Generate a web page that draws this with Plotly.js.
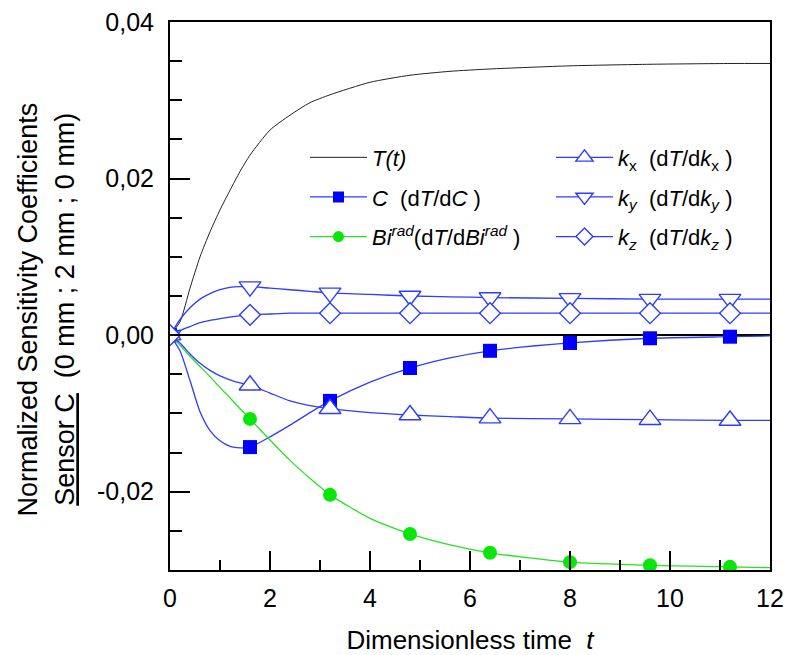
<!DOCTYPE html>
<html>
<head>
<meta charset="utf-8">
<script src="https://cdn.plot.ly/plotly-3.0.1.min.js"></script>
<style>html,body{margin:0;padding:0;background:#fff;}#chart{width:788px;height:655px;}</style>
</head>
<body>
<div id="chart"></div>
<script>
// Dimensionless time for the curves
var tLine = [0, 0.2, 0.4, 0.6, 0.8, 1.0, 1.2, 1.4, 1.6, 2.0, 2.4, 2.8, 3.2, 4.0, 4.8, 5.6, 6.4, 8.0, 9.6, 11.2, 12];
// Times where symbols are drawn
var tMarks = [0, 1.6, 3.2, 4.8, 6.4, 8.0, 9.6, 11.2];

// Series
var T_t  = [0, 0.0017, 0.0060, 0.0100, 0.0132, 0.0160, 0.0185, 0.0209, 0.0230, 0.0262, 0.0281, 0.0297, 0.0307, 0.0323, 0.0332, 0.0337, 0.0340, 0.0344, 0.0346, 0.0347, 0.0347];
var C_s  = [0, -0.0020, -0.0058, -0.0098, -0.0122, -0.0135, -0.0142, -0.0144, -0.0143, -0.0130, -0.0115, -0.0099, -0.0084, -0.0060, -0.0042, -0.0029, -0.0020, -0.0010, -0.0004, -0.0002, -0.0001];
var Bi_s = [0, -0.0013, -0.0027, -0.0040, -0.0053, -0.0067, -0.0080, -0.0094, -0.0107, -0.0134, -0.0160, -0.0183, -0.0204, -0.0234, -0.0254, -0.0268, -0.0278, -0.0290, -0.0294, -0.0296, -0.0297];
var kx_s = [0, -0.0010, -0.0024, -0.0036, -0.0045, -0.0052, -0.0057, -0.0061, -0.0064, -0.0074, -0.0084, -0.0090, -0.0094, -0.0099, -0.0102, -0.0104, -0.0106, -0.0107, -0.0108, -0.0109, -0.0109];
var ky_s = [0, 0.0020, 0.0035, 0.0046, 0.0053, 0.0058, 0.0061, 0.0062, 0.0062, 0.0060, 0.0058, 0.0056, 0.0054, 0.0052, 0.0050, 0.0049, 0.0048, 0.0047, 0.0046, 0.0046, 0.0046];
var kz_s = [0, 0.0006, 0.0011, 0.0016, 0.0019, 0.0021, 0.0023, 0.0025, 0.0026, 0.0027, 0.0028, 0.0028, 0.0028, 0.0028, 0.0028, 0.0028, 0.0028, 0.0028, 0.0028, 0.0028, 0.0028];

// Tick labels
var yTickVals = [-0.02, 0, 0.02, 0.04];
var yTickText = ['-0,02', '0,00', '0,02', '0,04'];
var yMinorVals = [-0.025, -0.015, -0.01, -0.005, 0.005, 0.01, 0.015, 0.025, 0.03, 0.035];

// Legend labels
var names = {
  T:  '<i>T(t)</i>',
  C:  '<i>C</i>\u00a0\u00a0(d<i>T</i>/d<i>C</i>\u00a0)',
  Bi: '<i>Bi</i><sup><i>rad</i></sup>(d<i>T</i>/d<i>Bi</i><sup><i>rad</i></sup>\u00a0)',
  kx: '<i>k</i><sub>x</sub>\u00a0\u00a0(d<i>T</i>/d<i>k</i><sub>x</sub>\u00a0)',
  ky: '<i>k</i><sub><i>y</i></sub>\u00a0\u00a0(d<i>T</i>/d<i>k</i><sub><i>y</i></sub>\u00a0)',
  kz: '<i>k</i><sub><i>z</i></sub>\u00a0\u00a0(d<i>T</i>/d<i>k</i><sub><i>z</i></sub>\u00a0)'
};

function pick(arr) { return tMarks.map(function (t) { return arr[tLine.indexOf(t)]; }); }

var BLUE = 'rgb(45,60,255)';
var BLUE_FILL = '#0000ff';
var GREEN = 'rgb(40,225,40)';
var GREEN_FILL = 'rgb(10,230,10)';

var series = [
  {key:'T',  y:T_t,  color:'#222', width:1, marker:null, legend:'legend'},
  {key:'C',  y:C_s,  color:BLUE, width:1.3, marker:{symbol:'square', size:14, color:BLUE_FILL, line:{width:0}}, legend:'legend'},
  {key:'Bi', y:Bi_s, color:GREEN, width:1.3, marker:{symbol:'circle', size:14, color:GREEN_FILL, line:{width:0}}, legend:'legend'},
  {key:'kx', y:kx_s, color:BLUE, width:1.3, marker:{symbol:'triangle-up', size:19, color:'#fff', line:{width:1.4, color:BLUE}}, legend:'legend2'},
  {key:'ky', y:ky_s, color:BLUE, width:1.3, marker:{symbol:'triangle-down', size:19, color:'#fff', line:{width:1.4, color:BLUE}}, legend:'legend2'},
  {key:'kz', y:kz_s, color:BLUE, width:1.3, marker:{symbol:'diamond', size:16, color:'#fff', line:{width:1.4, color:BLUE}}, legend:'legend2'}
];

var traces = [];
series.forEach(function (s) {
  traces.push({x:tLine, y:s.y, mode:'lines', line:{color:s.color, width:s.width, shape:'spline', smoothing:0.6}, showlegend:false, hoverinfo:'skip'});
  if (s.marker) {
    traces.push({x:tMarks, y:pick(s.y), mode:'markers', marker:s.marker, showlegend:false});
  }
});
series.forEach(function (s) {
  var tr = {x:[null], y:[null], mode:s.marker ? 'lines+markers' : 'lines', name:names[s.key],
    line:{color:s.color, width:s.width}, legend:s.legend, legendgroup:s.key, showlegend:true};
  if (s.marker) {
    tr.marker = Object.assign({}, s.marker, {size: Math.round(s.marker.size * 0.8)});
  }
  traces.push(tr);
});

var FONT = '"Liberation Sans", Arial, sans-serif';

var layout = {
  width: 788, height: 655,
  margin: {l:170, r:18, t:22, b:85},
  paper_bgcolor:'#fff', plot_bgcolor:'#fff',
  font: {family: FONT, color:'#000', size:22},
  showlegend: true,
  xaxis: {
    range:[0, 12], tickmode:'linear', tick0:0, dtick:2,
    ticks:'inside', ticklen:19, tickwidth:2, tickcolor:'#000',
    minor:{tickmode:'linear', tick0:0, dtick:1, ticks:'inside', ticklen:10, tickwidth:2, tickcolor:'#000'},
    showline:true, linewidth:2, linecolor:'#000', mirror:true,
    showgrid:false, zeroline:false, ticklabelstandoff:5,
    tickfont:{size:25, family:FONT},
    title:{text:'Dimensionless time\u00a0\u00a0<i>t</i>', font:{size:26, family:FONT}, standoff:20}
  },
  yaxis: {
    range:[-0.03, 0.04], tickmode:'array', tickvals:yTickVals, ticktext:yTickText,
    ticks:'inside', ticklen:20, tickwidth:2, tickcolor:'#000',
    minor:{tickmode:'array', tickvals:yMinorVals, ticks:'inside', ticklen:12, tickwidth:2, tickcolor:'#000'},
    showline:true, linewidth:2, linecolor:'#000', mirror:true,
    showgrid:false, zeroline:true, zerolinecolor:'#000', zerolinewidth:2.5,
    ticklabelstandoff:9,
    tickfont:{size:25, family:FONT}
  },
  legend: {x:0.225, y:0.791, xanchor:'left', yanchor:'top', bgcolor:'rgba(0,0,0,0)', borderwidth:0,
    font:{size:22, family:FONT}, tracegroupgap:8, traceorder:'grouped', itemwidth:57},
  legend2: {x:0.635, y:0.791, xanchor:'left', yanchor:'top', bgcolor:'rgba(0,0,0,0)', borderwidth:0,
    font:{size:22, family:FONT}, tracegroupgap:8, traceorder:'grouped', itemwidth:57},
  annotations: [
    {xref:'paper', yref:'paper', x:-0.237, y:0.475, xanchor:'center', yanchor:'middle', textangle:-90, showarrow:false,
      text:'Normalized Sensitivity Coefficients', font:{size:27, family:FONT}},
    {xref:'paper', yref:'paper', x:-0.175, y:0.475, xanchor:'center', yanchor:'middle', textangle:-90, showarrow:false,
      text:'<u>Sensor C</u>\u00a0\u00a0(0 mm ; 2 mm ; 0 mm)', font:{size:27, family:FONT}}
  ]
};

Plotly.newPlot('chart', traces, layout, {displayModeBar:false, staticPlot:true});
</script>
</body>
</html>
